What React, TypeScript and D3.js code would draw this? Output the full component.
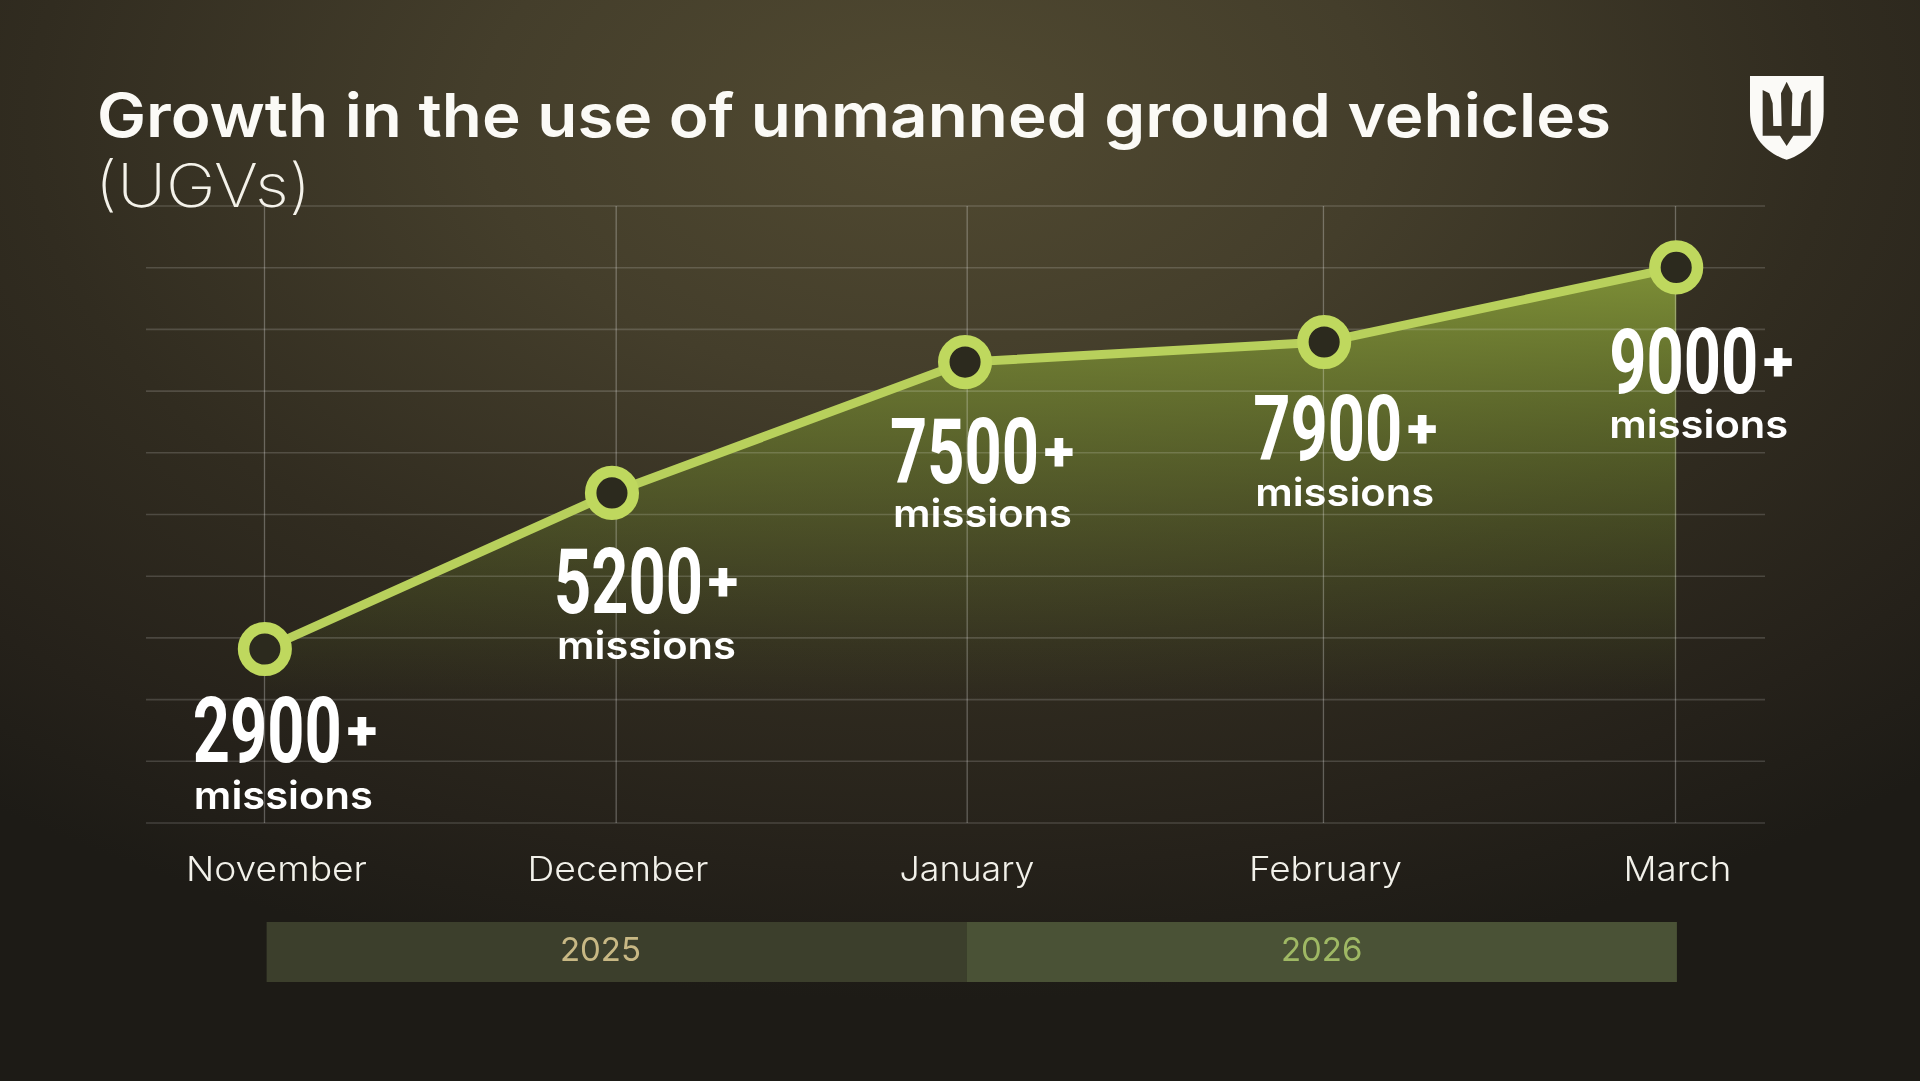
import React from "react";
import * as d3 from "d3";

// Data
const months = ["November", "December", "January", "February", "March"];
const missionLabels = [2900, 5200, 7500, 7900, 9000];
// Heights at which the line is actually drawn in the reference, read against the 1000-step grid
const plottedLevels = [2820, 5350, 7470, 7795, 9005];
// Month positions of the points and of the vertical grid lines
const pointMonths = [0.001, 0.985, 1.986, 3.004, 4.002];
const gridMonths = [0, 0.997, 1.992, 3.002, 4];
const yearLabels = ["2025", "2026"];
const yearSpans = [[0.006, 1.99], [1.99, 4.004]];

const titleMain = "Growth in the use of unmanned ground vehicles";
const titleSub = "(UGVs)";
const unit = "missions";

// Layout only
const W = 1920;
const H = 1081;
const labelLayout = [
  { dx: -72, dy: 113, unitDx: 1, unitDy: 47 },
  { dx: -58, dy: 120, unitDx: 3, unitDy: 46 },
  { dx: -75, dy: 121, unitDx: 3, unitDy: 44 },
  { dx: -71, dy: 118, unitDx: 2, unitDy: 46 },
  { dx: -67, dy: 126, unitDx: 0, unitDy: 45 },
];
const monthLabelLayout = [
  { cx: 276.5, w: 181 },
  { cx: 618, w: 181 },
  { cx: 967, w: 135 },
  { cx: 1325.5, w: 153 },
  { cx: 1677.5, w: 108 },
];
const yearLayout = [
  { cx: 600.5, fill: "#c8b884", band: "#3c3f2c" },
  { cx: 1321.7, fill: "#9fb864", band: "#4a5236" },
];

const HEAD = "Inter, 'Noto Sans', sans-serif";
const NUM = "Roboto, 'Liberation Sans', sans-serif";

const x = d3.scaleLinear().domain([0, 4]).range([264.5, 1675.5]);
const y = d3.scaleLinear().domain([0, 10000]).range([823, 206]);

const points = plottedLevels.map((v, i) => ({ m: pointMonths[i], v }));
const linePath = d3.line<{ m: number; v: number }>().x((d) => x(d.m)).y((d) => y(d.v))(points) ?? "";
const areaPath =
  d3
    .area<{ m: number; v: number }>()
    .x((d) => x(d.m))
    .y0(y(0))
    .y1((d) => y(d.v))(points) ?? "";

export default function App() {
  return (
    <svg
      width={W}
      height={H}
      viewBox={`0 0 ${W} ${H}`}
      style={{ position: "fixed", top: 0, left: 0, display: "block" }}
    >
      <defs>
        <radialGradient id="bg" gradientUnits="userSpaceOnUse" cx={0} cy={0} r={1} gradientTransform="translate(930 120) scale(1500 880)">
          <stop offset="0" stopColor="#514a31" />
          <stop offset="0.3" stopColor="#443e2b" />
          <stop offset="0.6" stopColor="#312c20" />
          <stop offset="0.85" stopColor="#25211a" />
          <stop offset="1" stopColor="#1d1b16" />
        </radialGradient>
        <linearGradient id="areaFill" gradientUnits="userSpaceOnUse" x1={0} y1={267} x2={0} y2={700}>
          <stop offset="0" stopColor="#8aa03a" stopOpacity={0.85} />
          <stop offset="0.4" stopColor="#71862e" stopOpacity={0.55} />
          <stop offset="1" stopColor="#5a6c24" stopOpacity={0} />
        </linearGradient>
      </defs>

      <rect x={0} y={0} width={W} height={H} fill="url(#bg)" />

      <path d={areaPath} fill="url(#areaFill)" />

      <g>
        {y.ticks(10).map((t) => (
          <line key={t} x1={146} x2={1765} y1={y(t)} y2={y(t)} stroke="#ffffff" strokeOpacity={0.16} strokeWidth={1.6} />
        ))}
        {gridMonths.map((m) => (
          <line key={m} x1={x(m)} x2={x(m)} y1={y(10000)} y2={y(0)} stroke="#ffffff" strokeOpacity={0.28} strokeWidth={1.3} />
        ))}
      </g>

      <path d={linePath} fill="none" stroke="#b8d05c" strokeWidth={9} />
      {points.map((p, i) => (
        <circle key={i} cx={x(p.m)} cy={y(p.v)} r={21.3} fill="#2c2a1e" stroke="#bfd85e" strokeWidth={11.5} />
      ))}

      <text x={97} y={136.5} fontFamily={HEAD} fontWeight={600} fontSize={60} fill="#fbfaf6" textLength={1514} lengthAdjust="spacingAndGlyphs">
        {titleMain}
      </text>
      <text x={95} y={207} fontFamily={HEAD} fontWeight={200} fontSize={60} fill="#f4f2ea" textLength={216} lengthAdjust="spacingAndGlyphs">
        {titleSub}
      </text>

      {missionLabels.map((v, i) => {
        const px = x(pointMonths[i]);
        const py = y(plottedLevels[i]);
        const l = labelLayout[i];
        const lx = px + l.dx;
        const ly = py + l.dy;
        return (
          <g key={v} fill="#ffffff">
            <text x={lx} y={ly} fontFamily={NUM} fontWeight={700} fontSize={90} textLength={149} lengthAdjust="spacingAndGlyphs">
              {v}
            </text>
            <text x={lx + 169} y={ly - 12} textAnchor="middle" fontFamily={NUM} fontWeight={900} fontSize={56}>
              +
            </text>
            <text x={lx + l.unitDx} y={ly + l.unitDy} fontFamily={HEAD} fontWeight={600} fontSize={39} textLength={179} lengthAdjust="spacingAndGlyphs">
              {unit}
            </text>
          </g>
        );
      })}

      {months.map((m, i) => (
        <text
          key={m}
          x={monthLabelLayout[i].cx - monthLabelLayout[i].w / 2}
          y={880.5}
          fontFamily={HEAD}
          fontWeight={300}
          fontSize={34}
          fill="#f2f1ea"
          textLength={monthLabelLayout[i].w}
          lengthAdjust="spacingAndGlyphs"
        >
          {m}
        </text>
      ))}

      {yearLabels.map((yr, i) => (
        <g key={yr}>
          <rect
            x={x(yearSpans[i][0])}
            y={922}
            width={x(yearSpans[i][1]) - x(yearSpans[i][0])}
            height={60}
            fill={yearLayout[i].band}
          />
          <text x={yearLayout[i].cx} y={961} textAnchor="middle" fontFamily={HEAD} fontWeight={400} fontSize={33} fill={yearLayout[i].fill}>
            {yr}
          </text>
        </g>
      ))}

      <g transform="translate(1680 40) scale(0.3333)">
        <path
          d="M210 108 H431 V215 C431 290 380 340 320 359 C260 340 210 290 210 215 Z"
          fill="#fbfaf7"
        />
        <path
          d="M248 150 L268 160 L278 190 L280 258 H305 L303 160 L320 125 L337 160 L335 258 H362 L364 190 L374 160 L392 150 V287 H340 L320 318 L300 287 H248 Z"
          fill="#3a3426"
        />
      </g>
    </svg>
  );
}
